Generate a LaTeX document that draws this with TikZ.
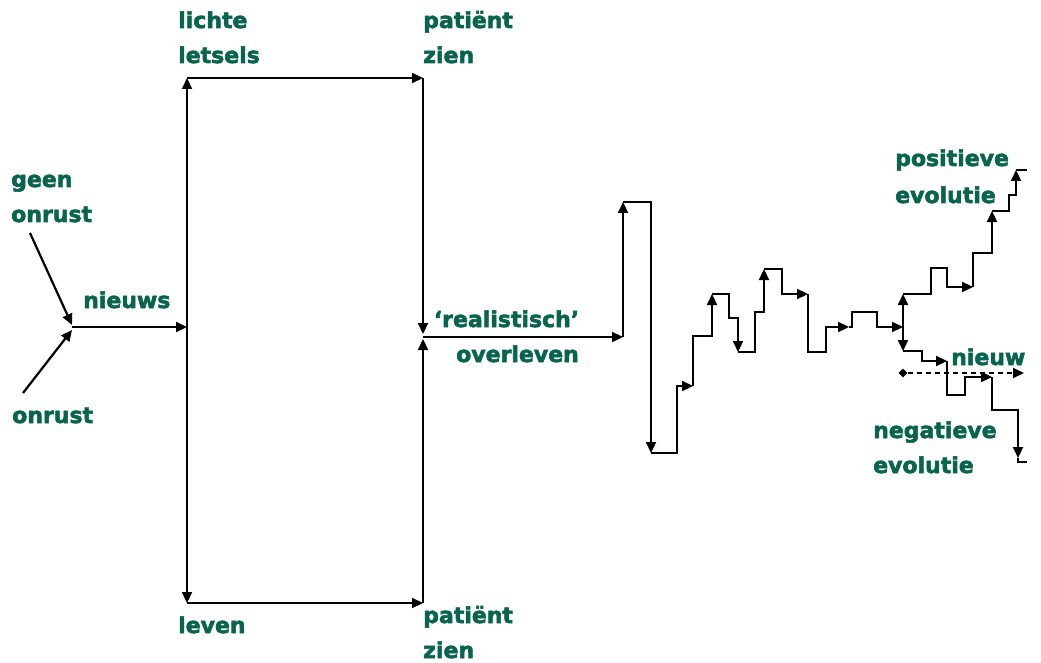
\documentclass[tikz,border=0pt]{standalone}
\usepackage{fontspec}
\setmainfont{DejaVu Sans}[BoldFeatures={FakeBold=2.5}]
\usetikzlibrary{arrows.meta,shapes.geometric}
\definecolor{lblgreen}{RGB}{8,100,78}
\tikzset{
  conn/.style={line width=2.2pt, -{Triangle[length=11pt,width=10pt]}},
  plain/.style={line width=2.2pt},
  lbl/.style={text=lblgreen, font=\bfseries\fontsize{22}{35}\selectfont, inner sep=0pt, anchor=base west},
}
\newcommand{\twol}[2]{\vtop{\hbox{#1}\hbox{#2}}}
\newcommand{\twor}[2]{\vtop{\hbox to 145pt{\hfil#1}\hbox to 145pt{\hfil#2}}}
\begin{document}
\begin{tikzpicture}[x=1pt,y=-1pt]
\useasboundingbox (0,0) rectangle (1041,663);
\fill[white] (0,0) rectangle (1041,663);
% labels
\node[lbl] (gee) at (11,187) {\twol{geen}{onrust}};
\node[lbl] (onr) at (12,423) {onrust};
\node[lbl] (nws) at (83,308) {nieuws};
\node[lbl] (lic) at (178,28) {\twol{lichte}{letsels}};
\node[lbl] (pz1) at (423,28) {\twol{patiënt}{zien}};
\node[lbl, anchor=base east] (rea) at (579,327) {\twor{‘realistisch’}{overleven}};
\node[lbl] (lev) at (178,633) {leven};
\node[lbl] (pz2) at (423,623) {\twol{patiënt}{zien}};
\node[lbl, font=\bfseries\fontsize{22}{37}\selectfont] (pos) at (895,166) {\twol{positieve}{evolutie}};
\node[lbl] (nie) at (951,365) {nieuw};
\node[lbl] (neg) at (873,438) {\twol{negatieve}{evolutie}};
% coordinates
\coordinate (ga) at (30,233);
\coordinate (oa) at (23,393);
\coordinate (m) at (72,327);
\coordinate (mu) at (72,325);
\coordinate (md) at (72,330);
\coordinate (j) at (187,327);
\coordinate (tl) at (187,78);
\coordinate (tr) at (423,78);
\coordinate (bl) at (187,603);
\coordinate (br) at (423,603);
\coordinate (rd) at (423,334);
\coordinate (ru) at (423,339);
\coordinate (rs) at (423,337);
\coordinate (z0) at (623,337);
\coordinate (k) at (903,327);
% main connectors
\draw[conn] (ga) -- (mu);
\draw[conn] (oa) -- (md);
\draw[conn] (m) -- (j);
\draw[conn] (j) -- (tl);
\draw[conn] (j) -- (bl);
\draw[conn] (tl) -- (tr);
\draw[conn] (bl) -- (br);
\draw[conn] (tr) -- (rd);
\draw[conn] (br) -- (ru);
\draw[conn] (rs) -- (z0);
% zigzag
\draw[conn] (z0) -- (623,202);
\draw[conn] (623,202) -- (651,202) -- (651,453);
\draw[conn] (651,453) -- (677,453) -- (677,386) -- (693,386);
\draw[conn] (693,386) -- (693,336) -- (712,336) -- (712,294);
\draw[conn] (712,294) -- (729,294) -- (729,318) -- (738,318) -- (738,352);
\draw[conn] (738,352) -- (755,352) -- (755,312) -- (764,312) -- (764,269);
\draw[conn] (764,269) -- (782,269) -- (782,294) -- (808,294);
\draw[conn] (808,294) -- (808,352) -- (826,352) -- (826,327) -- (849,327);
\draw[conn] (849,327) -- (852,327) -- (852,312) -- (877,312) -- (877,327) -- (k);
% positive branch
\draw[conn] (k) -- (903,294);
\draw[conn] (903,294) -- (931,294) -- (931,268) -- (947,268) -- (947,287) -- (973,287);
\draw[conn] (973,287) -- (973,253) -- (992,253) -- (992,211);
\draw[conn] (992,211) -- (1009,211) -- (1009,195) -- (1016,195) -- (1016,170);
\draw[plain] (1016,170) -- (1027,170);
% negative branch
\draw[conn] (k) -- (903,351);
\draw[conn] (903,351) -- (922,351) -- (922,361) -- (947,361);
\draw[conn] (947,361) -- (947,395) -- (965,395) -- (965,377) -- (992,377);
\draw[conn] (992,377) -- (992,410) -- (1018,410) -- (1018,458);
\draw[plain] (1018,458) -- (1018,462) -- (1027,462);
% dashed new line
\node[diamond, fill=black, inner sep=0pt, minimum size=9pt] (nd) at (903,373) {};
\coordinate (ne) at (1024,373);
\draw[conn, line width=1.8pt, dash pattern=on 5pt off 4pt] (nd) -- (ne);
\end{tikzpicture}
\end{document}
